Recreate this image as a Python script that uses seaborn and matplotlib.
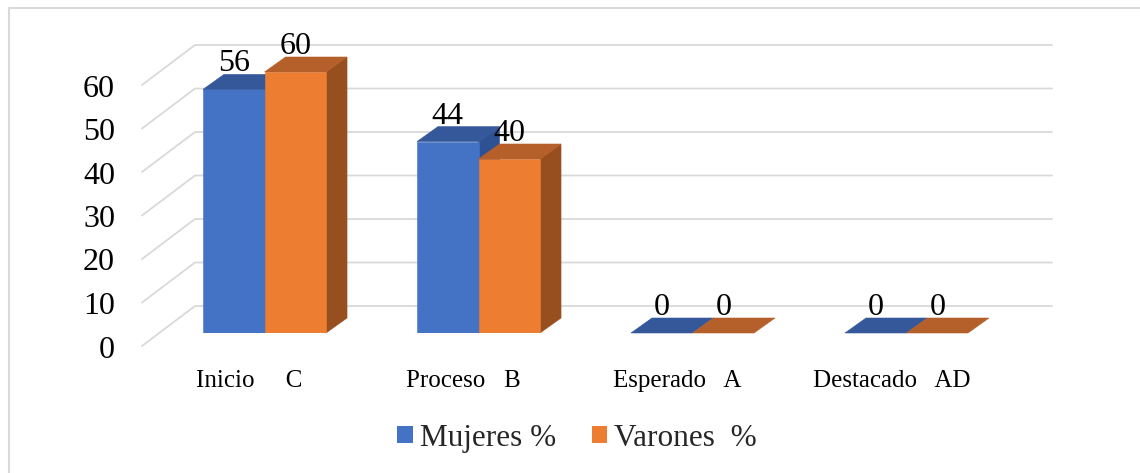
import matplotlib
matplotlib.use("Agg")
import matplotlib.pyplot as plt
import matplotlib.colors as mcolors
from matplotlib.patches import Polygon, Patch
from matplotlib.lines import Line2D
from matplotlib.transforms import IdentityTransform, blended_transform_factory, offset_copy
import pandas as pd
import seaborn as sns

# ---- data -------------------------------------------------------------
niveles = ["Inicio     C", "Proceso   B", "Esperado   A", "Destacado   AD"]
mujeres = [56, 44, 0, 0]
varones = [60, 40, 0, 0]
series = ["Mujeres %", "Varones  %"]
y_ticks = [0, 10, 20, 30, 40, 50, 60]

# ---- style ------------------------------------------------------------
sns.set_theme(style="white")
plt.rcParams["font.family"] = ["Liberation Serif", "DejaVu Serif"]

front_col = {series[0]: "#4472C4", series[1]: "#ED7D31"}
top_col = {series[0]: "#34589A", series[1]: "#B5602A"}
side_col = {series[0]: "#2E5193", series[1]: "#984F1F"}
grid_col = "#D9D9D9"

W, H = 1140, 473
fig = plt.figure(figsize=(W / 100, H / 100), dpi=100)
fig.patch.set_facecolor("white")

# axes = front plane of the bars (pixel layout measured from the top-left)
px_left, px_right = 157.5, 1013.5
px_zero, px_top = 333.0, 72.0
ax = fig.add_axes([px_left / W, (H - px_zero) / H,
                   (px_right - px_left) / W, (px_zero - px_top) / H])

df = pd.DataFrame({
    "Nivel": niveles * 2,
    "Porcentaje": mujeres + varones,
    "Sexo": [series[0]] * len(niveles) + [series[1]] * len(niveles),
})

sns.barplot(data=df, x="Nivel", y="Porcentaje", hue="Sexo", hue_order=series,
            order=niveles, palette=front_col, width=0.575, saturation=1,
            legend=False, linewidth=0, ax=ax)
ax.set_xlim(-0.5, len(niveles) - 0.5)
ax.set_ylim(0, 60)
ax.axis("off")

# depth of the bars (pixels -> data units)
px_per_x = (px_right - px_left) / len(niveles)
px_per_y = (px_zero - px_top) / 60.0
ddx = 21 / px_per_x
ddy = 15 / px_per_y

hex_to_series = {mcolors.to_hex(c): s for s, c in front_col.items()}
label_tr = offset_copy(ax.transData, fig=fig, x=0, y=18, units="dots")

for p in ax.patches:
    s = hex_to_series[mcolors.to_hex(p.get_facecolor())]
    base_z = 2 if s == series[0] else 3
    p.set_zorder(base_z)
    p.set_edgecolor(front_col[s])
    p.set_linewidth(0.4)
    x0, w, h = p.get_x(), p.get_width(), p.get_height()
    x1 = x0 + w
    top = Polygon([(x0, h), (x1, h), (x1 + ddx, h + ddy), (x0 + ddx, h + ddy)],
                  closed=True, facecolor=top_col[s], edgecolor=top_col[s],
                  linewidth=0.4, zorder=base_z + 0.02, clip_on=False)
    ax.add_patch(top)
    if h > 0:
        side = Polygon([(x1, 0), (x1, h), (x1 + ddx, h + ddy), (x1 + ddx, ddy)],
                       closed=True, facecolor=side_col[s], edgecolor=side_col[s],
                       linewidth=0.4, zorder=base_z - 0.1, clip_on=False)
        ax.add_patch(side)
    ax.text(x0 + w / 2, h, f"{h:.0f}", transform=label_tr, ha="center",
            va="baseline", fontsize=23, color="black", zorder=6, clip_on=False)

# back wall and side wall gridlines
for v in y_ticks:
    yf = ax.transData.transform((0, v))[1]
    yb = yf + 27
    yfl = yf - 13
    ax.add_line(Line2D([142, 195, 1052], [yfl, yb, yb], transform=IdentityTransform(),
                       color=grid_col, linewidth=1.3, clip_on=False, zorder=0.5))

# value axis labels
ytick_tr = offset_copy(blended_transform_factory(IdentityTransform(), ax.transData),
                       fig=fig, x=0, y=-24.5, units="dots")
for v in y_ticks:
    ax.text(115, v, str(v), transform=ytick_tr, ha="right", va="baseline",
            fontsize=23, color="black", clip_on=False)

# category labels along the floor
cat_tr = offset_copy(ax.transData, fig=fig, x=-15, y=-54, units="dots")
for i, name in enumerate(niveles):
    ax.text(i, 0, name, transform=cat_tr, ha="center", va="baseline",
            fontsize=18, color="black", clip_on=False)

# legend
handles = [Patch(facecolor=front_col[s], edgecolor="none", label=s) for s in series]
fig.legend(handles=handles, loc="center", bbox_to_anchor=(577 / W, (H - 438) / H),
           ncol=2, frameon=False, fontsize=22.5, handlelength=0.5, handleheight=0.48,
           handletextpad=0.22, columnspacing=1.15, borderpad=0, borderaxespad=0)

# chart frame (top and left edges)
fig.add_artist(Line2D([8.5, 8.5, W], [0, H - 7.5, H - 7.5], transform=IdentityTransform(),
                      color=grid_col, linewidth=1.5))

fig.savefig("out.png", dpi=100, facecolor="white")
